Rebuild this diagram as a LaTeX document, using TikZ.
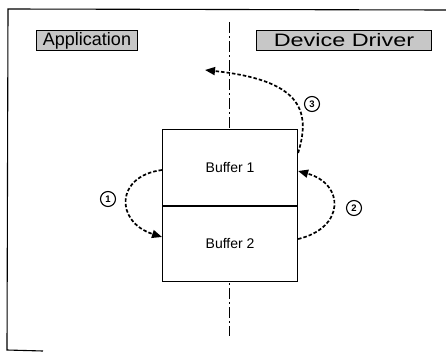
\documentclass[tikz,border=0pt]{standalone}
\usepackage{fontspec}
\setmainfont{Liberation Sans}
\usetikzlibrary{arrows.meta,calc}

\tikzset{
  layerbox/.style={draw=black, line width=1pt, fill=black!22, inner sep=0pt,
    font=\fontsize{18}{20}\selectfont, anchor=north west},
  bufbox/.style={draw=black, line width=1.1pt, fill=white, inner sep=0pt,
    minimum width=135pt, minimum height=76pt, anchor=north west,
    font=\fontsize{14}{16}\selectfont},
  stepmark/.style={draw=black, circle, line width=1.1pt, minimum size=15pt, inner sep=0pt,
    font=\bfseries\fontsize{9.5}{10}\selectfont},
  flow/.style={line width=1.7pt, dash pattern=on 3.5pt off 2pt,
    -{Triangle[length=10pt,width=8pt]}},
  divider/.style={line width=1pt, dash pattern=on 11pt off 3pt on 2pt off 3pt},
}

\begin{document}
\begin{tikzpicture}[x=1pt, y=-1pt]
  \useasboundingbox (0,0) rectangle (446,353);

  % outer frame (top and left edges, short foot at the bottom)
  \draw[line width=1.1pt] (446,10) -- (8,9) -- (7,350) -- (43,351);

  % dash-dot separator between application and driver side
  \coordinate (sepTop) at (229,22);
  \coordinate (sepBot) at (229,336);
  \draw[divider] (sepTop) -- (sepBot);

  % layer labels
  \node[layerbox, minimum width=101pt, minimum height=20pt] (app) at (36,30) {Application};
  \node[layerbox, minimum width=175pt, minimum height=20pt] (drv) at (256,30)
    {\scalebox{1.3}[1]{Device Driver}};

  % the two buffers
  \node[bufbox] (buf1) at (162,129) {Buffer 1};
  \node[bufbox] (buf2) at (162,205) {Buffer 2};
  \draw[line width=1.8pt] (buf1.south west) -- (buf1.south east);

  % step numbers
  \node[stepmark] (s1) at (108,199) {1};
  \node[stepmark] (s2) at (354,208) {2};
  \node[stepmark] (s3) at (312,104) {3};

  % hand-over points on the buffer edges
  \coordinate (b1L) at ($(buf1.north west)+(0,41)$);
  \coordinate (b2L) at ($(buf2.north west)+(0,32)$);
  \coordinate (b1Rlow) at ($(buf1.north east)+(0,42)$);
  \coordinate (b1Rtop) at ($(buf1.north east)+(0,24)$);
  \coordinate (b2R) at ($(buf2.north east)+(0,34)$);
  \coordinate (appIn) at (205,70);

  % step 1: Buffer 1 -> Buffer 2
  \draw[flow] (b1L) .. controls (115,176) and (115,222) .. (b2L);
  % step 2: Buffer 2 -> Buffer 1
  \draw[flow] (b2R) .. controls (345,228) and (345,184) .. (b1Rlow);
  % step 3: Buffer 1 -> application
  \draw[flow] (b1Rtop) .. controls (312,108) and (298,80) .. (appIn);
\end{tikzpicture}
\end{document}
